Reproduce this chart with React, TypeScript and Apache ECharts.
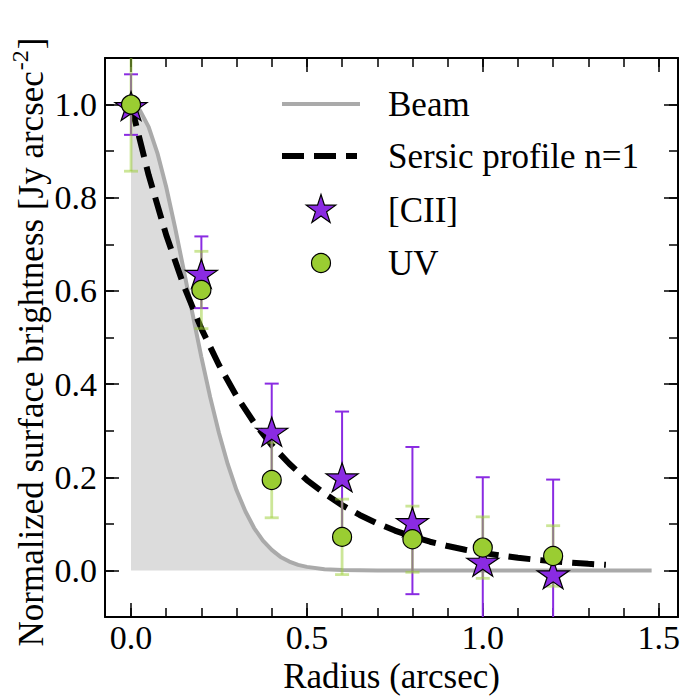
import React, { useEffect, useRef } from "react";
import * as echarts from "echarts";

// ---- data ----
const radius = [0, 0.2, 0.4, 0.6, 0.8, 1.0, 1.2];
const ciiValues = [1.0, 0.64, 0.301, 0.203, 0.107, 0.022, -0.005];
const ciiErrors = [0.065, 0.077, 0.1, 0.138, 0.158, 0.178, 0.2];
const uvValues = [1.0, 0.602, 0.194, 0.072, 0.067, 0.049, 0.031];
const uvErrors = [0.143, 0.083, 0.081, 0.081, 0.071, 0.066, 0.065];

const beamX = [0, 0.025, 0.05, 0.075, 0.1, 0.125, 0.15, 0.175, 0.2, 0.225, 0.25, 0.275, 0.3, 0.325, 0.35, 0.375, 0.4, 0.425, 0.45, 0.475, 0.5, 0.55, 0.6, 0.7, 1.0, 1.48];
const beamY = [1.0, 0.988, 0.952, 0.896, 0.823, 0.737, 0.644, 0.55, 0.458, 0.372, 0.295, 0.228, 0.172, 0.127, 0.091, 0.064, 0.044, 0.029, 0.019, 0.012, 0.0076, 0.0027, 0.0009, 0, 0, 0];

const sersicX = [0, 0.05, 0.1, 0.15, 0.2, 0.25, 0.3, 0.35, 0.4, 0.45, 0.5, 0.55, 0.6, 0.65, 0.7, 0.75, 0.8, 0.85, 0.9, 0.95, 1.0, 1.05, 1.1, 1.15, 1.2, 1.25, 1.3, 1.35];
const sersicY = [1.0, 0.849, 0.72, 0.611, 0.519, 0.441, 0.374, 0.317, 0.269, 0.229, 0.194, 0.165, 0.14, 0.119, 0.101, 0.0855, 0.0726, 0.0616, 0.0523, 0.0444, 0.0377, 0.032, 0.0271, 0.023, 0.0196, 0.0166, 0.0141, 0.012];

const xMajorTicks = [0, 0.5, 1.0, 1.5];
const xMinorTicks = [0, 0.1, 0.2, 0.3, 0.4, 0.5, 0.6, 0.7, 0.8, 0.9, 1.0, 1.1, 1.2, 1.3, 1.4, 1.5];
const yMajorTicks = [0, 0.2, 0.4, 0.6, 0.8, 1.0];
const yMinorTicks = [-0.1, 0, 0.1, 0.2, 0.3, 0.4, 0.5, 0.6, 0.7, 0.8, 0.9, 1.0, 1.1];

const legendLabels = ["Beam", "Sersic profile n=1", "[CII]", "UV"];
const yTitleParts = ["Normalized surface brightness [Jy arcsec", "-2", "]"];

const X_MIN = -0.074;
const X_MAX = 1.555;
const Y_MIN = -0.1;
const Y_MAX = 1.1;

const FONT = "Liberation Serif";
const PURPLE = "#8a2be2";
const GREEN = "#9acd32";
const STAR_PATH =
  "path://M0,-100 L22.45,-30.9 L95.11,-30.9 L36.33,11.8 L58.78,80.9 L0,38.2 L-58.78,80.9 L-36.33,11.8 L-95.11,-30.9 L-22.45,-30.9 Z";
const STAR_UNIT: number[][] = [
  [0, -1], [0.2245, -0.309], [0.9511, -0.309], [0.3633, 0.118], [0.5878, 0.809],
  [0, 0.382], [-0.5878, 0.809], [-0.3633, 0.118], [-0.9511, -0.309], [-0.2245, -0.309],
];

function measure(text: string, size: number): number {
  const c = document.createElement("canvas").getContext("2d");
  if (!c) return text.length * size * 0.45;
  c.font = size + "px " + FONT;
  return c.measureText(text).width;
}

function errorSeries(values: number[], errors: number[], color: string, width: number) {
  return {
    type: "custom",
    clip: false,
    xAxisIndex: 0,
    yAxisIndex: 0,
    data: radius.map((r, i) => [r, values[i] - errors[i], values[i] + errors[i]]),
    encode: { x: 0, y: [1, 2] },
    renderItem: (params: any, api: any) => {
      const x = api.value(0);
      const lo = api.value(1);
      const hi = api.value(2);
      const pTop = api.coord([x, Math.min(hi, Y_MAX)]);
      const pBot = api.coord([x, Math.max(lo, Y_MIN)]);
      const hw = 7;
      const style = { stroke: color, lineWidth: width };
      const children: any[] = [
        { type: "line", shape: { x1: pTop[0], y1: pTop[1], x2: pBot[0], y2: pBot[1] }, style },
      ];
      if (hi <= Y_MAX) {
        children.push({ type: "line", shape: { x1: pTop[0] - hw, y1: pTop[1], x2: pTop[0] + hw, y2: pTop[1] }, style });
      }
      if (lo >= Y_MIN) {
        children.push({ type: "line", shape: { x1: pBot[0] - hw, y1: pBot[1], x2: pBot[0] + hw, y2: pBot[1] }, style });
      }
      return { type: "group", children };
    },
    z: 3,
  };
}

function tickAxis(kind: "x" | "y", position: string, values: number[], len: number, main: boolean) {
  const base: any = {
    type: "value",
    position,
    min: kind === "x" ? X_MIN : Y_MIN,
    max: kind === "x" ? X_MAX : Y_MAX,
    splitLine: { show: false },
    axisLine: { show: main, onZero: false, lineStyle: { color: "#000", width: 2 } },
    axisTick: { show: true, inside: true, length: len, customValues: values, lineStyle: { color: "#000", width: 1.5 } },
    axisLabel: { show: false },
  };
  return base;
}

export default function App() {
  const ref = useRef<HTMLDivElement>(null);
  useEffect(() => {
    document.body.style.margin = "0";
    const chart = echarts.init(ref.current!, undefined, { renderer: "svg" });

    const legendX0 = 282;
    const legendX1 = 360;
    const legendTextX = 388;
    const rows = [104, 156, 210, 263];
    const starR = 15.5;
    const starCx = 321;

    const xMain = tickAxis("x", "bottom", xMajorTicks, 14, true);
    xMain.axisLabel = {
      show: true,
      customValues: xMajorTicks,
      formatter: (v: number) => v.toFixed(1),
      fontFamily: FONT,
      fontSize: 34,
      color: "#000",
      margin: 3,
    };
    xMain.name = "Radius (arcsec)";
    xMain.nameLocation = "middle";
    xMain.nameGap = 42;
    xMain.nameTextStyle = { fontFamily: FONT, fontSize: 35, color: "#000" };

    const yMain = tickAxis("y", "left", yMajorTicks, 14, true);
    yMain.axisLabel = {
      show: true,
      customValues: yMajorTicks,
      formatter: (v: number) => v.toFixed(1),
      fontFamily: FONT,
      fontSize: 34,
      color: "#000",
      margin: 8,
    };

    const w1 = measure(yTitleParts[0], 35);
    const w2 = measure(yTitleParts[1], 24);
    const w3 = measure(yTitleParts[2], 35);
    const total = w1 + w2 + w3;
    const start = -total / 2;
    const yTitle = {
      type: "group",
      x: 31,
      y: 343,
      rotation: Math.PI / 2,
      children: [
        { type: "text", x: start, y: 0, style: { text: yTitleParts[0], fontFamily: FONT, fontSize: 35, fill: "#000", verticalAlign: "middle", align: "left" } },
        { type: "text", x: start + w1 + 1, y: -11, style: { text: yTitleParts[1], fontFamily: FONT, fontSize: 24, fill: "#000", verticalAlign: "middle", align: "left" } },
        { type: "text", x: start + w1 + w2 + 2, y: 0, style: { text: yTitleParts[2], fontFamily: FONT, fontSize: 35, fill: "#000", verticalAlign: "middle", align: "left" } },
      ],
    };

    const option: any = {
      animation: false,
      grid: { left: 105, right: 5, top: 58, bottom: 80, outerBoundsMode: "none" },
      xAxis: [
        xMain,
        tickAxis("x", "bottom", xMinorTicks, 9, false),
        tickAxis("x", "top", xMajorTicks, 14, true),
        tickAxis("x", "top", xMinorTicks, 9, false),
      ],
      yAxis: [
        yMain,
        tickAxis("y", "left", yMinorTicks, 9, false),
        tickAxis("y", "right", yMajorTicks, 14, true),
        tickAxis("y", "right", yMinorTicks, 9, false),
      ],
      series: [
        {
          name: "Beam",
          type: "line",
          clip: false,
          xAxisIndex: 0,
          yAxisIndex: 0,
          data: beamX.map((x, i) => [x, beamY[i]]),
          showSymbol: false,
          symbol: "none",
          lineStyle: { color: "#aaaaaa", width: 4 },
          areaStyle: { color: "#dcdcdc", origin: "auto", opacity: 1 },
          z: 1,
        },
        {
          name: "Sersic profile n=1",
          type: "line",
          clip: false,
          xAxisIndex: 0,
          yAxisIndex: 0,
          data: sersicX.map((x, i) => [x, sersicY[i]]),
          showSymbol: false,
          symbol: "none",
          lineStyle: { color: "#000", width: 6, type: [22, 10], cap: "butt" },
          z: 2,
        },
        errorSeries(ciiValues, ciiErrors, PURPLE, 2),
        errorSeries(uvValues, uvErrors, "rgba(154,205,50,0.5)", 2.8),
        {
          name: "[CII]",
          type: "scatter",
          xAxisIndex: 0,
          yAxisIndex: 0,
          data: radius.map((r, i) => [r, ciiValues[i]]),
          symbol: STAR_PATH,
          symbolSize: [32, 30.4],
          symbolKeepAspect: true,
          symbolOffset: [0, 1.5],
          itemStyle: { color: PURPLE, borderColor: "#000", borderWidth: 1.2, opacity: 1 },
          z: 4,
        },
        {
          name: "UV",
          type: "scatter",
          xAxisIndex: 0,
          yAxisIndex: 0,
          data: radius.map((r, i) => [r, uvValues[i]]),
          symbol: "circle",
          symbolSize: 19,
          itemStyle: { color: GREEN, borderColor: "#000", borderWidth: 1.2, opacity: 1 },
          z: 5,
        },
      ],
      graphic: [
        yTitle,
        {
          type: "line",
          shape: { x1: legendX0, y1: rows[0], x2: legendX1, y2: rows[0] },
          style: { stroke: "#aaaaaa", lineWidth: 4 },
        },
        {
          type: "line",
          shape: { x1: legendX0, y1: rows[1], x2: legendX1 - 3, y2: rows[1] },
          style: { stroke: "#000", lineWidth: 6, lineDash: [22, 10] },
        },
        {
          type: "polygon",
          shape: { points: STAR_UNIT.map((p) => [starCx + p[0] * starR, rows[2] + p[1] * starR]) },
          style: { fill: PURPLE, stroke: "#000", lineWidth: 1.2 },
        },
        {
          type: "circle",
          shape: { cx: starCx, cy: rows[3], r: 9.5 },
          style: { fill: GREEN, stroke: "#000", lineWidth: 1.2 },
        },
        ...legendLabels.map((t, i) => ({
          type: "text",
          x: legendTextX,
          y: rows[i],
          style: { text: t, fontFamily: FONT, fontSize: 35, fill: "#000", verticalAlign: "middle", align: "left" },
        })),
      ],
    };
    chart.setOption(option);
    return () => chart.dispose();
  }, []);
  return <div ref={ref} style={{ width: 683, height: 697 }} />;
}
